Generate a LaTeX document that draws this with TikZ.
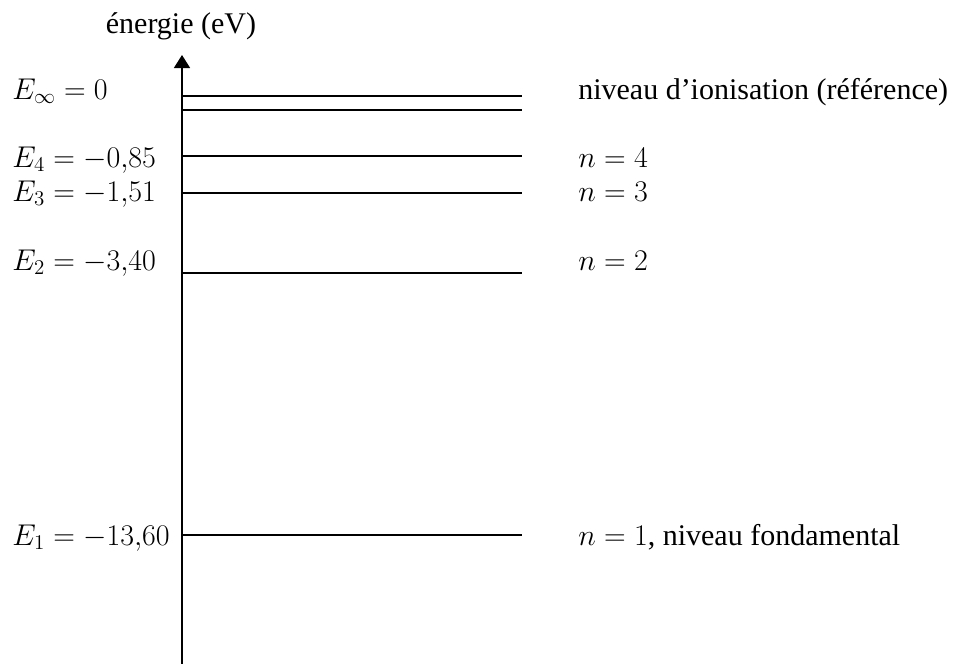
\documentclass[tikz,border=0pt]{standalone}
\usepackage{fix-cm}
\usepackage{fontspec}
\setmainfont{Liberation Serif}
\usetikzlibrary{arrows.meta}

\tikzset{
  niveau/.style={line width=1.1pt},
  axe/.style={line width=1.1pt, -{Triangle[length=9.75pt,width=12pt]}},
  etiquette/.style={inner sep=0pt, anchor=base west, font=\fontsize{22.5}{27}\selectfont}
}

\begin{document}
\begin{tikzpicture}[x=0.75pt, y=-0.75pt]
    \useasboundingbox (0,0) rectangle (968,664);

    % axe des energies
    \coordinate (bas) at (182,664);
    \coordinate (haut) at (182,55);
    \draw[axe] (bas) -- (haut);
    \node[etiquette, anchor=base] (titre) at (181,33) {énergie (eV)};

    % les niveaux
    \foreach \y/\nom in {96/inf, 110/cinq, 156/quatre, 193/trois, 273/deux, 535/un} {
        \coordinate (g\nom) at (183,\y);
        \coordinate (d\nom) at (522,\y);
        \draw[niveau] (g\nom) -- (d\nom);
    }

    % valeurs a gauche
    \node[etiquette] (Einf) at (12,99) {$E_\infty = 0$};
    \node[etiquette] (E4) at (12,167) {$E_4 = -0{,}85$};
    \node[etiquette] (E3) at (12,201) {$E_3 = -1{,}51$};
    \node[etiquette] (E2) at (12,270) {$E_2 = -3{,}40$};
    \node[etiquette] (E1) at (12,545) {$E_1 = -13{,}60$};

    % noms a droite
    \node[etiquette] (ion) at (578,99) {niveau d’ionisation (référence)};
    \node[etiquette] (n4) at (578,167) {$n = 4$};
    \node[etiquette] (n3) at (578,201) {$n = 3$};
    \node[etiquette] (n2) at (578,270) {$n = 2$};
    \node[etiquette] (n1) at (578,545) {$n = 1$, niveau fondamental};
\end{tikzpicture}
\end{document}
